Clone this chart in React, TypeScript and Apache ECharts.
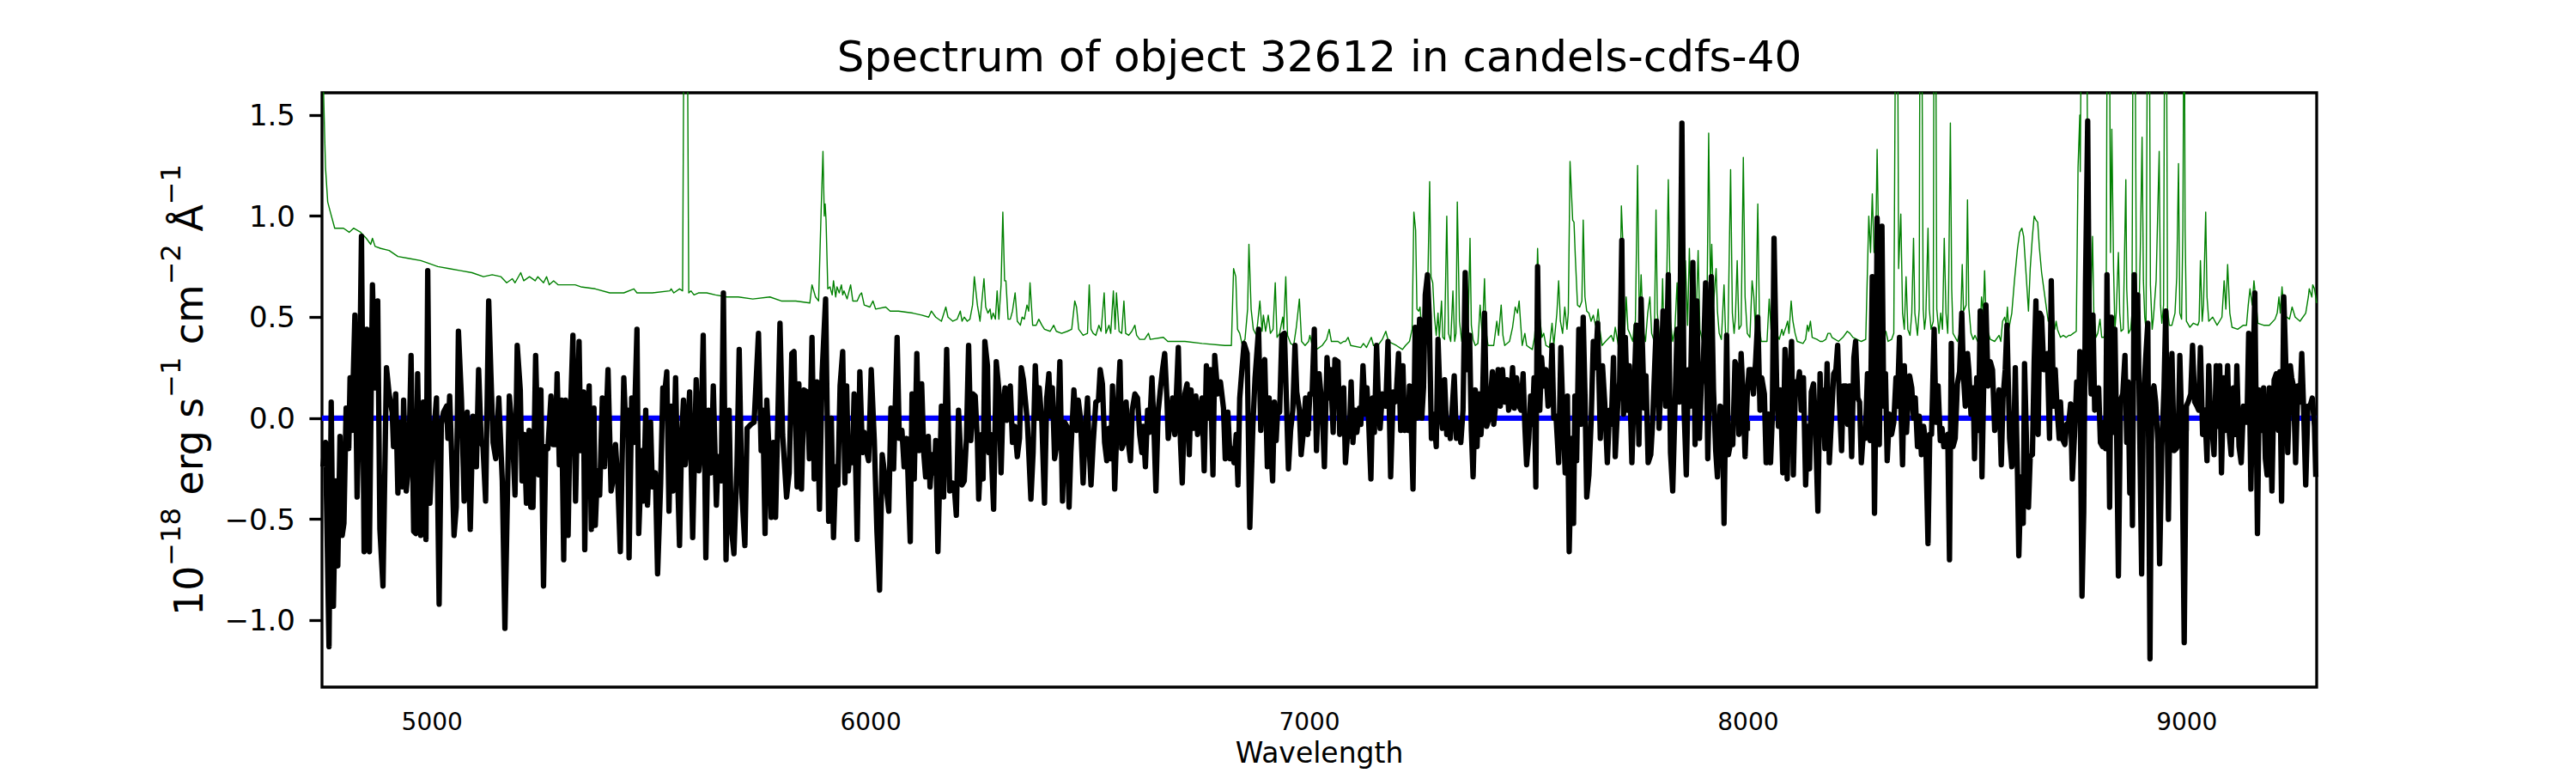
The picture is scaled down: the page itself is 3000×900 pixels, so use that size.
import React, { useEffect, useRef } from "react";
import * as echarts from "echarts";

const titleText = "Spectrum of object 32612 in candels-cdfs-40";
const xAxisName = "Wavelength";
const xTicks = [5000, 6000, 7000, 8000, 9000];
const yTicks = [-1.0, -0.5, 0.0, 0.5, 1.0, 1.5];
const xRange = [4749, 9296];
const yRange = [-1.33, 1.61];
const zeroLevel = 0;

// object flux (black)
const flux: [number, number][] = [
[4751,-0.24],[4757,-0.12],[4765,-1.13],[4770,0.08],[4775,-0.93],[4780,-0.31],[4785,-0.73],[4790,-0.09],[4795,-0.58],[4799,-0.52],[4804,0.05],[4810,-0.15],[4813,0.20],[4817,-0.06],[4824,0.51],[4829,-0.39],[4834,0.06],[4839,0.90],[4845,-0.66],[4851,0.44],[4857,-0.66],[4864,0.66],[4870,0.15],[4876,0.58],[4881,-0.55],[4888,-0.83],[4896,0.25],[4902,0.12],[4909,0.03],[4912,-0.14],[4917,0.12],[4922,-0.37],[4927,-0.02],[4932,-0.34],[4935,0.09],[4941,-0.36],[4947,-0.21],[4952,0.31],[4958,-0.56],[4963,-0.57],[4967,0.22],[4974,-0.58],[4980,0.08],[4986,-0.60],[4990,0.73],[4995,-0.42],[5000,-0.18],[5010,0.10],[5016,-0.92],[5021,-0.03],[5026,0.03],[5033,0.06],[5036,-0.10],[5040,0.11],[5046,-0.27],[5050,-0.58],[5055,-0.44],[5060,0.43],[5067,0.09],[5073,-0.41],[5080,0.03],[5087,-0.55],[5093,0.01],[5101,-0.24],[5106,0.24],[5112,-0.12],[5116,-0.14],[5122,-0.41],[5129,0.58],[5134,0.22],[5139,-0.12],[5145,-0.20],[5152,0.10],[5160,-0.31],[5166,-1.04],[5176,0.11],[5183,-0.07],[5189,-0.38],[5194,0.36],[5201,0.14],[5205,-0.31],[5210,-0.08],[5215,-0.42],[5221,-0.06],[5225,-0.44],[5230,-0.44],[5236,0.31],[5243,-0.28],[5248,0.14],[5254,-0.83],[5259,-0.14],[5264,-0.15],[5271,0.11],[5276,-0.13],[5281,-0.13],[5285,0.22],[5290,-0.23],[5295,0.09],[5300,-0.70],[5304,0.09],[5310,-0.58],[5314,-0.07],[5321,0.41],
[5327,-0.41],[5335,0.38],[5339,-0.16],[5345,0.13],[5348,-0.65],[5352,-0.04],[5358,0.16],[5363,-0.55],[5369,0.05],[5372,-0.53],[5377,-0.26],[5382,-0.38],[5388,0.10],[5393,-0.24],[5401,0.24],[5408,-0.36],[5412,-0.31],[5418,-0.13],[5423,-0.30],[5429,-0.66],[5437,0.20],[5442,-0.08],[5446,0.04],[5449,-0.69],[5455,0.10],[5460,-0.12],[5467,0.44],[5471,-0.57],[5478,-0.16],[5482,-0.41],[5487,0.04],[5491,-0.43],[5498,-0.02],[5502,-0.34],[5509,-0.27],[5514,-0.77],[5521,-0.32],[5526,0.15],[5530,0.12],[5535,0.23],[5540,-0.46],[5545,0.06],[5549,-0.36],[5555,0.20],[5560,-0.31],[5564,-0.63],[5569,-0.08],[5573,0.09],[5577,-0.23],[5582,-0.09],[5587,0.13],[5594,-0.59],[5602,0.19],[5608,-0.26],[5612,-0.16],[5618,0.41],[5624,-0.69],[5630,0.04],[5636,-0.27],[5641,0.16],[5648,-0.43],[5652,-0.19],[5659,-0.31],[5664,0.62],[5670,-0.70],[5677,0.04],[5682,-0.54],[5688,-0.67],[5695,-0.23],[5700,0.34],[5706,-0.37],[5713,-0.63],[5718,-0.05],[5727,-0.03],[5734,-0.02],[5744,0.42],[5750,-0.16],[5754,0.04],[5759,-0.57],[5763,0.09],[5768,-0.16],[5773,-0.49],[5778,-0.12],[5783,-0.49],[5793,0.47],[5799,-0.08],[5808,-0.39],[5814,-0.27],[5820,0.32],[5825,0.33],[5832,-0.34],[5836,0.17],[5842,-0.35],[5848,0.14],[5855,0.13],[5860,-0.20],[5866,0.40],[5871,-0.30],[5877,0.18],[5883,-0.45],[5889,0.22],
[5897,0.59],[5904,-0.51],[5910,0.00],[5915,-0.59],[5920,-0.24],[5925,-0.33],[5930,0.16],[5936,0.33],[5941,-0.32],[5945,0.16],[5949,-0.26],[5954,-0.12],[5958,-0.22],[5962,0.12],[5969,-0.60],[5975,0.23],[5981,-0.17],[5985,-0.07],[5990,-0.16],[5995,-0.21],[6001,0.24],[6008,-0.11],[6014,-0.56],[6020,-0.85],[6026,-0.18],[6033,-0.30],[6041,-0.46],[6046,0.05],[6052,-0.25],[6060,0.40],[6065,-0.10],[6071,-0.06],[6076,-0.24],[6082,-0.10],[6086,-0.36],[6090,-0.61],[6094,0.12],[6099,-0.30],[6105,0.32],[6110,-0.16],[6116,0.17],[6121,-0.18],[6125,-0.29],[6131,-0.09],[6135,-0.34],[6140,-0.18],[6145,-0.27],[6148,-0.11],[6153,-0.66],[6161,0.06],[6166,-0.39],[6173,0.34],[6180,-0.36],[6186,-0.32],[6191,-0.36],[6195,-0.48],[6200,0.04],[6208,-0.33],[6213,-0.31],[6218,-0.10],[6223,0.36],[6228,-0.11],[6233,0.12],[6238,0.11],[6243,-0.11],[6246,-0.40],[6253,-0.08],[6256,-0.30],[6260,0.38],[6266,0.26],[6269,-0.17],[6273,-0.08],[6280,-0.45],[6286,0.28],[6292,0.14],[6297,-0.27],[6301,0.04],[6306,0.15],[6310,-0.01],[6314,0.11],[6318,0.16],[6323,-0.12],[6328,-0.04],[6334,-0.19],[6339,-0.10],[6343,0.25],[6348,0.19],[6357,-0.02],[6365,-0.40],[6370,-0.17],[6375,0.26],[6380,0.00],[6384,0.15],[6390,-0.02],[6396,-0.42],[6401,0.10],[6406,0.22],[6410,0.01],[6414,0.15],[6419,-0.20],[6425,-0.12],[6431,0.28],[6437,-0.41],[6442,-0.02],[6447,-0.04],[6452,-0.44],[6456,-0.17],
[6463,0.14],[6469,-0.06],[6473,0.09],[6478,0.00],[6484,-0.32],[6489,-0.07],[6494,0.10],[6497,-0.10],[6502,-0.33],[6507,-0.12],[6513,0.08],[6519,0.09],[6523,0.24],[6528,0.17],[6533,-0.12],[6538,-0.21],[6543,-0.05],[6547,-0.20],[6551,0.16],[6556,-0.35],[6562,0.02],[6568,0.28],[6572,-0.15],[6577,-0.12],[6582,0.08],[6587,-0.12],[6592,-0.21],[6596,0.04],[6602,0.12],[6608,0.10],[6613,-0.08],[6618,-0.17],[6621,-0.04],[6626,-0.24],[6631,0.04],[6635,-0.07],[6641,0.20],[6645,-0.02],[6650,-0.36],[6655,0.03],[6660,0.14],[6665,0.24],[6670,0.32],[6675,0.10],[6678,-0.10],[6683,-0.02],[6688,0.10],[6693,-0.08],[6701,0.35],[6706,-0.12],[6710,-0.32],[6716,0.12],[6721,0.17],[6726,-0.18],[6730,0.14],[6735,-0.05],[6741,0.11],[6745,-0.08],[6750,0.04],[6755,0.10],[6760,-0.26],[6765,0.26],[6769,0.00],[6774,0.24],[6780,-0.28],[6784,0.31],[6791,0.12],[6797,0.18],[6804,0.05],[6808,-0.20],[6814,0.03],[6819,-0.20],[6823,-0.15],[6828,-0.22],[6833,-0.08],[6837,-0.33],[6841,0.10],[6846,0.24],[6851,0.37],[6858,0.32],[6864,-0.54],[6871,-0.04],[6876,0.20],[6880,0.32],[6884,0.44],[6889,-0.06],[6894,0.26],[6898,0.29],[6904,-0.24],[6908,0.10],[6911,-0.10],[6916,-0.31],[6920,0.08],[6924,-0.11],[6928,0.06],[6932,0.03],[6937,0.41],[6943,0.42],[6947,0.12],[6952,-0.25],[6957,-0.06],[6962,0.04],[6967,0.36],[6971,0.13],[6977,0.04],[6981,-0.18],[6986,-0.07],[6991,0.10],[6996,-0.08],[7001,0.12],[7006,0.12],[7011,0.44],[7016,-0.16],[7022,0.22],[7029,0.05],
[7034,-0.24],[7040,0.30],[7045,0.10],[7048,0.24],[7054,-0.07],[7058,0.29],[7065,0.28],[7069,-0.08],[7073,-0.02],[7078,0.15],[7082,-0.22],[7086,-0.10],[7091,-0.08],[7095,0.18],[7099,-0.12],[7104,0.04],[7108,-0.07],[7114,0.05],[7117,-0.03],[7122,0.26],[7127,0.02],[7131,0.15],[7135,-0.02],[7140,-0.30],[7144,0.10],[7148,-0.07],[7153,0.36],[7157,0.10],[7161,-0.05],[7166,0.12],[7170,0.10],[7174,0.06],[7179,0.38],[7185,-0.29],[7191,0.13],[7195,0.08],[7198,0.12],[7203,0.32],[7208,-0.06],[7213,0.26],[7217,-0.06],[7221,0.04],[7225,-0.06],[7228,0.16],[7232,-0.04],[7236,-0.35],[7241,0.45],[7245,0.00],[7251,0.49],[7256,0.00],[7260,0.15],[7264,0.61],[7269,0.71],[7273,0.51],[7278,-0.10],[7283,0.02],[7289,-0.14],[7293,0.39],[7298,0.08],[7303,-0.05],[7308,0.19],[7313,-0.08],[7317,-0.01],[7321,-0.10],[7326,0.07],[7330,0.21],[7335,-0.10],[7340,-0.02],[7345,-0.12],[7350,0.04],[7355,0.72],[7360,0.24],[7365,0.41],[7369,-0.06],[7373,-0.29],[7378,0.14],[7382,-0.14],[7386,0.12],[7391,-0.08],[7394,0.04],[7399,0.52],[7404,-0.04],[7408,-0.01],[7412,0.08],[7417,0.23],[7420,-0.03],[7425,0.08],[7430,0.24],[7435,0.06],[7440,0.24],[7445,0.08],[7450,0.19],[7454,0.04],[7458,0.08],[7463,0.25],[7467,0.05],[7472,0.20],[7478,0.06],[7482,0.04],[7487,0.22],[7491,-0.04],[7495,-0.23],[7500,-0.10],[7504,0.11],[7508,-0.03],[7512,0.20],[7516,-0.34],[7520,0.75],[7525,0.04],[7529,0.30],[7534,0.16],[7539,0.24],[7544,0.06],[7549,0.12],[7553,0.36],[7557,0.00],[7562,0.01],[7568,-0.22],[7573,0.35],[7578,0.00],[7583,-0.27],[7588,0.11],[7592,-0.66],
[7598,-0.10],[7602,-0.52],[7605,0.11],[7609,-0.21],[7614,0.44],[7619,-0.03],[7624,0.50],[7628,0.12],[7632,-0.39],[7637,-0.28],[7642,-0.02],[7647,0.38],[7652,0.25],[7657,0.47],[7663,-0.10],[7668,0.26],[7673,0.08],[7679,-0.22],[7684,0.04],[7688,-0.03],[7693,0.30],[7697,-0.19],[7703,0.08],[7707,0.18],[7712,0.88],[7716,0.02],[7720,0.40],[7725,0.04],[7729,0.26],[7735,-0.22],[7740,0.14],[7745,0.46],[7751,-0.13],[7756,0.59],[7763,0.05],[7767,0.21],[7772,-0.22],[7778,-0.18],[7782,-0.03],[7787,0.26],[7791,0.48],[7797,-0.05],[7802,0.24],[7806,0.53],[7812,0.06],[7818,0.71],[7823,-0.17],[7828,-0.36],[7833,0.04],[7838,0.44],[7843,0.08],[7849,1.46],[7854,0.04],[7859,-0.28],[7864,0.24],[7868,0.06],[7874,0.77],[7879,-0.13],[7883,0.58],[7889,-0.10],[7893,0.16],[7898,0.28],[7903,0.67],[7908,-0.20],[7911,0.08],[7916,0.70],[7921,0.14],[7926,-0.16],[7930,-0.29],[7936,0.06],[7941,0.05],[7945,-0.52],[7951,0.41],[7955,-0.18],[7960,-0.12],[7965,-0.13],[7970,0.28],[7975,0.24],[7979,-0.08],[7984,0.32],[7989,0.08],[7993,-0.19],[7998,0.12],[8002,0.24],[8007,0.24],[8012,0.12],[8017,0.28],[8022,0.50],[8027,0.04],[8031,0.20],[8037,0.12],[8041,-0.22],[8046,0.02],[8051,-0.22],[8055,0.00],[8059,0.89],[8065,0.16],[8069,-0.04],[8074,0.14],[8079,-0.27],[8084,0.34],[8089,-0.30],[8093,0.16],[8099,0.38],[8103,-0.28],[8108,0.18],[8113,0.16],[8117,0.23],[8121,0.04],[8126,0.20],[8131,-0.33],[8136,-0.04],[8140,-0.25],[8144,0.13],[8149,0.17],[8154,-0.08],[8159,-0.46],[8164,0.22],
[8167,-0.02],[8170,0.14],[8175,-0.15],[8180,0.27],[8185,-0.22],[8190,0.00],[8195,0.22],[8200,0.24],[8204,0.36],[8208,0.08],[8213,-0.16],[8217,0.16],[8223,0.16],[8227,-0.03],[8231,0.16],[8236,-0.19],[8241,0.30],[8245,0.38],[8250,0.10],[8254,0.08],[8258,-0.22],[8263,-0.06],[8267,-0.10],[8272,0.22],[8275,-0.08],[8278,-0.11],[8283,0.70],[8288,-0.47],[8291,0.08],[8294,0.99],[8299,-0.13],[8303,0.52],[8305,0.95],[8309,0.06],[8313,0.22],[8317,-0.21],[8322,0.02],[8327,-0.08],[8332,-0.02],[8337,0.20],[8340,0.06],[8345,0.40],[8348,0.06],[8352,-0.23],[8356,0.26],[8361,-0.07],[8365,0.10],[8368,0.21],[8373,0.15],[8377,0.00],[8381,0.10],[8386,-0.14],[8390,0.01],[8395,-0.18],[8400,-0.04],[8405,-0.13],[8410,-0.62],[8414,-0.08],[8418,-0.08],[8424,0.44],[8428,-0.02],[8433,0.16],[8438,-0.11],[8442,-0.05],[8446,-0.14],[8451,-0.12],[8455,-0.08],[8459,-0.70],[8463,0.37],[8467,-0.14],[8472,-0.10],[8477,0.17],[8482,0.23],[8487,0.52],[8491,0.20],[8495,0.06],[8500,0.32],[8503,0.24],[8508,0.02],[8513,0.15],[8516,-0.20],[8521,0.20],[8525,-0.06],[8529,0.53],[8533,-0.29],[8538,0.28],[8542,0.56],[8547,0.16],[8552,0.28],[8557,0.24],[8562,-0.06],[8567,0.04],[8572,0.14],[8577,-0.23],[8581,0.10],[8586,0.24],[8590,0.46],[8596,-0.10],[8601,-0.24],[8605,-0.16],[8609,0.25],[8614,-0.28],[8617,-0.68],[8622,-0.29],[8627,-0.52],[8630,0.27],[8635,-0.16],[8639,-0.44],[8643,-0.19],[8648,-0.18],[8652,0.28],[8656,0.58],[8661,-0.08],[8665,0.52],[8669,0.50],[8674,0.24],[8679,0.26],[8682,0.32],[8687,-0.10],[8691,0.68],[8696,0.06],[8700,0.24],[8704,0.06],[8709,-0.10],[8712,0.08],[8716,-0.10],[8722,-0.13],[8726,-0.03],[8731,-0.02],
[8735,0.07],[8739,-0.30],[8744,-0.08],[8749,0.18],[8753,0.00],[8756,0.33],[8761,-0.88],[8765,-0.46],[8769,0.66],[8774,1.47],[8778,0.32],[8782,0.12],[8786,0.51],[8790,0.04],[8794,0.12],[8799,0.15],[8803,-0.12],[8808,-0.14],[8812,-0.02],[8815,-0.15],[8818,0.71],[8824,-0.44],[8828,0.50],[8832,-0.07],[8836,0.44],[8840,-0.08],[8844,-0.78],[8849,0.09],[8854,0.12],[8859,0.31],[8863,-0.12],[8866,0.18],[8870,-0.37],[8873,0.13],[8876,-0.53],[8880,0.71],[8885,0.20],[8888,0.61],[8892,0.02],[8897,-0.77],[8901,0.08],[8906,0.29],[8911,0.47],[8916,-1.19],[8920,0.12],[8925,0.16],[8929,0.08],[8934,-0.12],[8938,-0.72],[8943,-0.14],[8948,0.15],[8952,0.53],[8958,-0.50],[8962,0.12],[8966,0.32],[8971,-0.16],[8976,-0.15],[8980,-0.13],[8984,0.31],[8989,-0.08],[8994,-1.11],[8999,0.06],[9003,0.08],[9009,0.12],[9013,0.36],[9018,0.08],[9023,0.06],[9027,0.04],[9031,0.35],[9036,-0.08],[9041,0.04],[9046,-0.21],[9050,0.26],[9054,0.00],[9058,-0.07],[9062,-0.18],[9067,0.26],[9071,-0.04],[9075,0.26],[9079,-0.27],[9084,0.20],[9088,-0.06],[9093,0.26],[9097,-0.08],[9101,-0.18],[9106,0.15],[9111,-0.08],[9114,0.26],[9119,-0.14],[9124,-0.22],[9129,0.06],[9134,0.04],[9137,-0.02],[9141,0.42],[9146,-0.35],[9150,0.12],[9155,0.62],[9161,-0.57],[9165,0.14],[9170,-0.06],[9175,0.15],[9179,-0.20],[9183,-0.28],[9188,0.15],[9191,-0.12],[9194,-0.36],[9199,0.19],[9204,0.22],[9209,-0.06],[9212,0.23],[9216,-0.41],[9221,0.60],[9226,0.24],[9230,-0.17],[9236,0.26],[9239,0.20],[9243,0.16],[9248,-0.22],[9253,0.16],[9258,0.08],[9262,0.32],[9266,0.06],[9271,-0.33],[9276,0.06],[9281,0.06],[9286,0.10],[9291,-0.04],[9294,-0.29]
];

// flux uncertainty / sky noise (green)
const fluxError: [number, number][] = [
[4751,1.75],[4755,1.40],[4757,1.24],[4762,1.07],[4768,1.02],[4778,0.94],[4798,0.94],[4811,0.92],[4821,0.94],[4837,0.92],[4850,0.89],[4860,0.86],[4864,0.89],[4870,0.85],[4883,0.84],[4902,0.83],[4922,0.80],[4948,0.79],[4974,0.78],[4987,0.77],[5013,0.75],[5039,0.74],[5065,0.73],[5091,0.72],[5117,0.70],[5137,0.71],[5157,0.70],[5170,0.67],[5183,0.69],[5189,0.67],[5202,0.72],[5209,0.68],[5222,0.70],[5235,0.68],[5241,0.70],[5254,0.67],[5261,0.70],[5267,0.66],[5277,0.68],[5287,0.66],[5307,0.66],[5326,0.66],[5339,0.65],[5372,0.64],[5405,0.62],[5437,0.62],[5460,0.64],[5467,0.62],[5502,0.62],[5542,0.63],[5545,0.64],[5551,0.62],[5564,0.64],[5571,0.63],[5575,2.4],[5581,2.4],[5585,0.62],[5590,0.63],[5597,0.61],[5607,0.62],[5626,0.62],[5646,0.61],[5672,0.60],[5698,0.60],[5731,0.59],[5770,0.60],[5796,0.58],[5829,0.58],[5861,0.57],[5866,0.66],[5874,0.60],[5881,0.58],[5887,1.04],[5891,1.32],[5894,1.00],[5896,1.06],[5898,0.98],[5902,0.64],[5907,0.65],[5912,0.61],[5915,0.68],[5920,0.60],[5923,0.65],[5928,0.62],[5933,0.66],[5936,0.61],[5939,0.63],[5946,0.59],[5954,0.66],[5959,0.58],[5969,0.58],[5975,0.61],[5979,0.62],[5985,0.56],[5998,0.55],[6005,0.58],[6011,0.54],[6034,0.55],[6044,0.53],[6063,0.53],[6096,0.52],[6116,0.51],[6132,0.50],[6138,0.53],[6148,0.50],[6161,0.48],[6171,0.55],[6176,0.50],[6187,0.48],[6197,0.49],[6204,0.53],[6208,0.48],[6213,0.50],[6220,0.48],[6226,0.49],[6232,0.56],[6236,0.70],[6243,0.56],[6249,0.48],[6258,0.69],[6262,0.55],[6267,0.52],[6272,0.54],[6275,0.49],[6279,0.52],[6284,0.49],[6288,0.63],[6292,0.49],[6297,0.66],[6301,1.02],[6305,0.68],[6308,0.68],[6313,0.49],[6318,0.49],[6323,0.53],[6329,0.62],[6334,0.48],[6341,0.46],[6345,0.50],[6350,0.49],[6356,0.56],[6360,0.53],[6363,0.67],[6369,0.46],[6377,0.46],[6383,0.49],[6390,0.46],[6396,0.44],[6409,0.43],[6417,0.46],[6423,0.43],[6435,0.42],[6448,0.43],[6458,0.44],[6465,0.58],[6469,0.55],[6474,0.44],[6484,0.41],[6494,0.42],[6498,0.66],[6502,0.44],[6507,0.42],[6513,0.41],[6520,0.46],[6525,0.43],[6532,0.62],[6536,0.42],[6543,0.46],[6547,0.42],[6553,0.63],[6557,0.44],[6560,0.62],[6566,0.43],[6572,0.42],[6577,0.58],[6581,0.42],[6588,0.41],[6595,0.43],[6602,0.46],[6606,0.41],[6613,0.39],[6624,0.39],[6633,0.42],[6637,0.39],[6667,0.40],[6677,0.38],[6716,0.38],[6755,0.37],[6807,0.36],[6822,0.36],[6827,0.74],[6832,0.70],[6836,0.44],[6841,0.42],[6846,0.37],[6853,0.39],[6859,0.54],[6862,0.86],[6867,0.54],[6872,0.44],[6879,0.41],[6887,0.58],[6892,0.43],[6895,0.51],[6900,0.43],[6906,0.51],[6911,0.42],[6917,0.44],[6922,0.67],[6926,0.40],[6932,0.42],[6939,0.50],[6941,0.44],[6946,0.70],[6950,0.41],[6957,0.37],[6964,0.36],[6970,0.45],[6977,0.59],[6982,0.38],[6990,0.36],[6998,0.38],[7001,0.41],[7006,0.36],[7012,0.45],[7016,0.34],[7029,0.36],[7039,0.39],[7045,0.44],[7050,0.38],[7065,0.38],[7071,0.37],[7078,0.38],[7082,0.38],[7088,0.40],[7094,0.36],[7117,0.35],[7123,0.37],[7130,0.35],[7141,0.40],[7146,0.36],[7156,0.36],[7166,0.39],[7174,0.43],[7180,0.38],[7198,0.36],[7212,0.34],[7219,0.36],[7228,0.38],[7234,0.44],[7238,1.02],[7242,0.93],[7245,0.54],[7249,0.53],[7252,0.55],[7256,0.44],[7260,0.46],[7267,0.54],[7270,0.70],[7274,1.17],[7277,0.70],[7281,0.67],[7285,0.50],[7289,0.41],[7293,0.52],[7296,0.40],[7301,0.58],[7304,0.40],[7308,0.39],[7313,1.00],[7317,0.42],[7322,0.38],[7327,0.63],[7331,0.38],[7334,0.42],[7337,1.07],[7342,0.48],[7347,0.38],[7353,0.39],[7358,0.40],[7362,0.48],[7366,0.89],[7369,0.46],[7373,0.39],[7378,0.36],[7384,0.37],[7389,0.56],[7394,0.40],[7399,0.69],[7402,0.44],[7407,0.36],[7420,0.36],[7427,0.48],[7431,0.41],[7437,0.56],[7441,0.41],[7445,0.36],[7456,0.38],[7463,0.45],[7469,0.55],[7474,0.52],[7478,0.58],[7481,0.48],[7485,0.36],[7491,0.42],[7495,0.36],[7508,0.34],[7513,0.40],[7517,0.52],[7520,0.84],[7525,0.50],[7530,0.40],[7534,0.42],[7539,0.36],[7547,0.35],[7553,0.47],[7557,0.36],[7564,0.52],[7568,0.68],[7572,0.48],[7577,0.42],[7582,0.55],[7587,0.44],[7590,0.52],[7594,1.27],[7600,0.98],[7603,0.97],[7606,0.80],[7611,0.56],[7616,0.55],[7621,0.58],[7624,0.98],[7628,0.60],[7632,0.53],[7637,0.52],[7642,0.48],[7647,0.51],[7652,0.46],[7655,0.48],[7658,0.54],[7662,0.44],[7667,0.36],[7675,0.38],[7688,0.41],[7693,0.38],[7697,0.45],[7701,0.40],[7704,0.36],[7707,0.48],[7711,1.05],[7715,0.84],[7718,0.40],[7722,0.60],[7726,0.44],[7730,0.42],[7737,0.38],[7740,0.46],[7743,0.48],[7748,1.25],[7752,0.46],[7756,0.71],[7761,0.43],[7766,0.38],[7771,0.52],[7776,0.60],[7780,0.42],[7786,0.38],[7790,1.03],[7793,0.52],[7799,0.37],[7802,0.44],[7805,0.69],[7808,0.40],[7813,0.48],[7818,1.18],[7823,0.48],[7828,0.38],[7833,0.44],[7838,0.67],[7841,0.44],[7846,0.46],[7854,0.48],[7857,0.78],[7862,0.46],[7866,0.84],[7869,0.60],[7874,0.76],[7878,0.58],[7882,0.53],[7886,0.83],[7890,0.44],[7896,0.38],[7903,0.43],[7906,0.50],[7910,1.41],[7914,0.64],[7917,0.86],[7921,0.56],[7927,0.74],[7930,0.53],[7934,0.42],[7939,0.39],[7945,0.66],[7949,0.38],[7954,0.41],[7960,1.23],[7964,0.52],[7968,0.42],[7971,0.50],[7975,0.78],[7979,0.44],[7984,0.46],[7989,1.29],[7993,0.60],[7998,0.42],[8004,0.40],[8009,0.68],[8013,0.60],[8017,0.42],[8022,1.06],[8026,0.44],[8030,0.38],[8043,0.38],[8048,0.59],[8052,0.44],[8056,0.39],[8067,0.41],[8071,0.39],[8077,0.44],[8080,0.41],[8086,0.45],[8090,0.48],[8093,0.42],[8098,0.58],[8102,0.48],[8107,0.42],[8112,0.38],[8125,0.37],[8131,0.39],[8135,0.46],[8138,0.43],[8142,0.48],[8146,0.40],[8157,0.39],[8164,0.38],[8170,0.38],[8177,0.39],[8182,0.42],[8187,0.42],[8191,0.40],[8206,0.38],[8216,0.40],[8226,0.43],[8232,0.42],[8239,0.40],[8258,0.38],[8268,0.39],[8275,1.00],[8279,0.82],[8283,1.11],[8287,0.82],[8291,0.88],[8294,1.33],[8298,0.78],[8301,0.46],[8311,0.42],[8314,0.43],[8319,0.38],[8327,0.39],[8332,0.42],[8337,2.4],[8340,2.4],[8343,0.74],[8348,1.01],[8352,0.52],[8356,0.44],[8360,0.70],[8364,0.44],[8369,0.41],[8373,0.52],[8377,0.89],[8380,0.52],[8386,0.41],[8390,0.54],[8392,2.4],[8395,2.4],[8399,0.54],[8402,0.44],[8405,0.50],[8410,0.94],[8413,0.54],[8417,0.44],[8422,0.48],[8424,2.4],[8427,2.4],[8430,0.54],[8435,0.42],[8439,0.52],[8443,0.44],[8447,0.89],[8451,0.52],[8455,0.42],[8457,0.64],[8461,1.46],[8464,0.64],[8467,0.42],[8477,0.38],[8484,0.44],[8488,0.76],[8491,0.53],[8497,0.56],[8500,1.08],[8503,0.55],[8508,0.42],[8513,0.39],[8517,0.41],[8523,0.38],[8528,0.40],[8532,0.60],[8536,0.52],[8539,0.73],[8542,0.52],[8545,0.44],[8552,0.39],[8562,0.38],[8572,0.41],[8576,0.38],[8580,0.48],[8585,0.50],[8588,0.46],[8591,0.55],[8594,0.44],[8601,0.52],[8607,0.68],[8614,0.84],[8619,0.92],[8624,0.94],[8628,0.90],[8634,0.70],[8639,0.53],[8643,0.74],[8648,0.90],[8652,1.00],[8656,0.98],[8660,0.97],[8664,0.84],[8669,0.72],[8674,0.64],[8679,0.56],[8684,0.48],[8689,0.52],[8693,0.46],[8699,0.44],[8702,0.48],[8705,0.44],[8712,0.40],[8718,0.41],[8725,0.40],[8731,0.41],[8735,0.41],[8741,0.42],[8748,0.43],[8752,1.24],[8756,1.50],[8757,1.22],[8761,2.4],[8771,2.4],[8774,1.14],[8777,0.64],[8781,0.56],[8785,0.90],[8788,0.52],[8793,0.40],[8797,0.42],[8802,0.49],[8806,0.40],[8811,0.40],[8816,0.44],[8819,2.4],[8823,2.4],[8826,0.82],[8829,1.43],[8833,0.74],[8836,0.44],[8839,0.52],[8844,0.82],[8847,0.52],[8850,0.43],[8855,0.44],[8861,1.18],[8863,0.64],[8867,0.42],[8872,0.44],[8875,0.52],[8878,2.4],[8881,2.4],[8885,0.64],[8888,0.42],[8891,0.52],[8894,0.84],[8898,1.39],[8901,0.68],[8904,0.50],[8907,0.44],[8911,2.4],[8914,2.4],[8917,0.66],[8921,0.44],[8924,0.50],[8930,0.68],[8937,1.32],[8940,0.56],[8943,0.47],[8947,0.56],[8950,2.4],[8953,2.4],[8956,0.54],[8960,0.46],[8966,0.46],[8973,0.52],[8977,0.70],[8981,1.26],[8984,0.52],[8988,0.49],[8991,0.94],[8994,2.4],[8996,0.94],[8999,0.48],[9007,0.45],[9015,0.47],[9025,0.46],[9028,0.48],[9031,0.78],[9035,0.48],[9038,0.56],[9043,1.02],[9046,0.60],[9050,0.48],[9059,0.50],[9069,0.46],[9080,0.50],[9085,0.68],[9089,0.54],[9093,0.76],[9098,0.52],[9103,0.45],[9116,0.44],[9129,0.46],[9136,0.46],[9140,0.56],[9144,0.64],[9149,0.56],[9153,0.68],[9157,0.59],[9162,0.47],[9175,0.46],[9188,0.46],[9201,0.49],[9206,0.52],[9210,0.60],[9213,0.52],[9217,0.65],[9222,0.51],[9234,0.49],[9240,0.55],[9247,0.50],[9258,0.48],[9271,0.52],[9277,0.60],[9279,0.64],[9285,0.60],[9287,0.66],[9291,0.64],[9296,0.57]
];

const FONT = "DejaVu Sans";

export default function App() {
  const ref = useRef<HTMLDivElement>(null);
  useEffect(() => {
    if (!ref.current) return;
    const chart = echarts.init(ref.current, null, { renderer: "svg" });
    const gridLeft = 375, gridTop = 108, gridW = 2323, gridH = 692;
    const fmtY = (v: number) => (v < 0 ? "\u2212" : "") + Math.abs(v).toFixed(1);
    chart.setOption({
      animation: false,
      backgroundColor: "#ffffff",
      grid: {
        left: gridLeft, top: gridTop, width: gridW, height: gridH,
        show: true, borderColor: "#000000", borderWidth: 3.3, backgroundColor: "transparent",
      },
      xAxis: {
        type: "value", min: xRange[0], max: xRange[1],
        axisLine: { show: false },
        splitLine: { show: false },
        axisTick: { show: true, length: 14.6, lineStyle: { color: "#000", width: 3.3 }, customValues: xTicks },
        axisLabel: { customValues: xTicks, fontSize: 28, fontFamily: FONT, color: "#000", margin: 26, formatter: (v: number) => String(v) },
      },
      yAxis: {
        type: "value", min: yRange[0], max: yRange[1],
        axisLine: { show: false },
        splitLine: { show: false },
        axisTick: { show: true, length: 14.6, lineStyle: { color: "#000", width: 3.3 }, customValues: yTicks },
        axisLabel: { customValues: yTicks, fontSize: 34, fontFamily: FONT, color: "#000", margin: 31, formatter: fmtY },
      },
      graphic: [
        {
          type: "text", x: gridLeft + gridW / 2, y: 66,
          style: { text: titleText, fontSize: 50, fontFamily: FONT, fill: "#000", align: "center", verticalAlign: "middle" },
        },
        {
          type: "text", x: gridLeft + gridW / 2, y: 876,
          style: { text: xAxisName, fontSize: 33, fontFamily: FONT, fill: "#000", align: "center", verticalAlign: "middle" },
        },
        {
          type: "text", x: 213, y: 454, rotation: Math.PI / 2,
          style: {
            text: "{b|10}{s|\u221218}{b| erg s}{s|\u22121}{b| cm}{s|\u22122}{b| \u00c5}{s|\u22121}",
            align: "center", verticalAlign: "middle", fill: "#000",
            rich: {
              b: { fontSize: 45.8, fontFamily: FONT, fill: "#000", lineHeight: 60, verticalAlign: "bottom" },
              s: { fontSize: 32, fontFamily: FONT, fill: "#000", lineHeight: 30, verticalAlign: "top" },
            },
          },
        },
      ],
      series: [
        {
          type: "line", data: [[xRange[0], zeroLevel], [xRange[1], zeroLevel]],
          symbol: "none", lineStyle: { color: "#0000ff", width: 6.25 }, silent: true,
        },
        {
          type: "line", data: fluxError, symbol: "none", silent: true,
          lineStyle: { color: "#008000", width: 1.4, join: "round" },
        },
        {
          type: "line", data: flux, symbol: "none", silent: true,
          lineStyle: { color: "#000000", width: 6.25, join: "round" },
        },
      ],
    });
    return () => chart.dispose();
  }, []);
  return <div ref={ref} style={{ position: "absolute", left: 0, top: 0, width: 3000, height: 900 }} />;
}
